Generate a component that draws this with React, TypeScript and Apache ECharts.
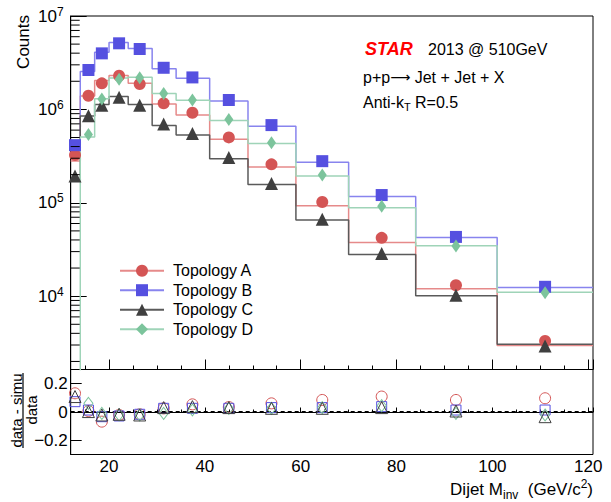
import React, { useEffect, useRef } from 'react';
import * as echarts from 'echarts';

const FONT = 'Liberation Sans, Arial, Helvetica, sans-serif';

// Dijet invariant-mass bin edges (GeV/c^2)
const BIN_EDGES = [12, 14, 17, 20, 24, 29, 34, 41, 49, 59, 70, 84, 101, 121];
// Data points plotted at the mean mass of each bin
const MASS_POINTS = [12.9, 15.7, 18.5, 22.1, 26.4, 31.4, 37.4, 45.0, 53.9, 64.5, 76.9, 92.4, 111.0];

// Data counts (markers)
const DATA_A = [3.24e5, 1.4e6, 1.9e6, 2.29e6, 1.87e6, 1.16e6, 9.2e5, 5.01e5, 2.58e5, 1.02e5, 4.21e4, 1.31e4, 3.31e3];
const DATA_B = [4.14e5, 2.64e6, 3.98e6, 5.1e6, 4.43e6, 2.79e6, 2.2e6, 1.26e6, 6.79e5, 2.79e5, 1.21e5, 4.31e4, 1.26e4];
const DATA_C = [1.94e5, 8.54e5, 1.11e6, 1.35e6, 1.11e6, 6.96e5, 5.53e5, 3.06e5, 1.61e5, 6.67e4, 2.86e4, 1.02e4, 2.93e3];
const DATA_D = [null, 5.4e5, 1.29e6, 2.1e6, 2.18e6, 1.48e6, 1.26e6, 7.81e5, 4.39e5, 1.98e5, 9.2e4, 3.45e4, 1.09e4];

// Simulation counts per bin (step histograms); 0 = empty / off-scale bin
const SIM_A = [2.81e5, 1.39e6, 2.04e6, 2.3e6, 1.9e6, 1.14e6, 8.7e5, 4.8e5, 2.42e5, 9.3e4, 3.75e4, 1.2e4, 2.97e3];
const SIM_B = [3.85e5, 2.55e6, 4.08e6, 5.2e6, 4.5e6, 2.73e6, 2.15e6, 1.23e6, 6.6e5, 2.72e5, 1.17e5, 4.25e4, 1.24e4];
const SIM_C = [1.73e5, 8.5e5, 1.13e6, 1.37e6, 1.13e6, 6.74e5, 5.32e5, 2.97e5, 1.57e5, 6.55e4, 2.8e4, 1.01e4, 3.05e3];
const SIM_D = [0, 5.07e5, 1.3e6, 2.17e6, 2.21e6, 1.48e6, 1.25e6, 7.6e5, 4.3e5, 1.93e5, 8.85e4, 3.46e4, 1.1e4];

// (data - simu) / data
const RATIO_A = [0.132, 0.007, -0.068, -0.021, -0.016, 0.026, 0.054, 0.035, 0.061, 0.085, 0.109, 0.085, 0.097];
const RATIO_B = [0.073, 0.014, -0.033, -0.028, -0.016, 0.026, 0.026, 0.026, 0.031, 0.031, 0.038, 0.014, 0.014];
const RATIO_C = [0.109, 0.003, -0.021, -0.016, -0.021, 0.031, 0.038, 0.031, 0.026, 0.026, 0.031, 0.007, -0.033];
const RATIO_D = [null, 0.061, -0.01, -0.02, -0.02, -0.01, 0.014, 0.026, 0.026, 0.031, 0.045, -0.01, -0.021];

const NAMES = ['Topology A', 'Topology B', 'Topology C', 'Topology D'];

const X_MIN = 12;
const X_MAX = 121;
const Y_MIN = 1640;
const Y_MAX = 1e7;
const R_MIN = -0.3;
const R_MAX = 0.3;

const LOG_MINOR_MULTS = [2, 3, 4, 5, 6, 7, 8, 9];
const LOG_DECADES = [1e3, 1e4, 1e5, 1e6];

const STYLES = [
  { marker: '#d45555', line: '#e68a8a', symbol: 'circle', size: 12, rsize: 11 },
  { marker: '#5550e0', line: '#8884ee', symbol: 'rect', size: 12, rsize: 10 },
  { marker: '#3f3f3f', line: '#5a5a5a', symbol: 'triangle', size: 13, rsize: 12 },
  { marker: '#7cc49c', line: '#9fd4b8', symbol: 'diamond', size: [9, 13] as any, rsize: [9, 12] as any },
];

const DATA = [DATA_A, DATA_B, DATA_C, DATA_D];
const SIMS = [SIM_A, SIM_B, SIM_C, SIM_D];
const RATIOS = [RATIO_A, RATIO_B, RATIO_C, RATIO_D];

function stepData(sim: number[]) {
  const pts = sim.map((v, i) => [BIN_EDGES[i], v > 0 ? v : Y_MIN / 10]);
  pts.push([BIN_EDGES[BIN_EDGES.length - 1], sim[sim.length - 1]]);
  return pts;
}

function pointData(vals: (number | null)[]) {
  const out: number[][] = [];
  vals.forEach((v, i) => {
    if (v !== null) out.push([MASS_POINTS[i], v]);
  });
  return out;
}

function buildOption() {
  const minorTicks: number[][] = [];
  LOG_DECADES.forEach((d) =>
    LOG_MINOR_MULTS.forEach((m) => {
      const v = m * d;
      if (v > Y_MIN && v < Y_MAX) minorTicks.push([X_MIN, v]);
    })
  );

  const series: any[] = [];
  SIMS.forEach((sim, k) => {
    series.push({
      type: 'line',
      name: NAMES[k],
      xAxisIndex: 0,
      yAxisIndex: 0,
      data: stepData(sim),
      step: 'end',
      symbol: STYLES[k].symbol,
      showSymbol: false,
      lineStyle: { color: STYLES[k].line, width: 1.5 },
      itemStyle: { color: STYLES[k].marker, opacity: 1 },
      silent: true,
      z: 2,
    });
  });
  DATA.forEach((d, k) => {
    series.push({
      type: 'scatter',
      name: NAMES[k] + ' data',
      xAxisIndex: 0,
      yAxisIndex: 0,
      data: pointData(d),
      symbol: STYLES[k].symbol,
      symbolSize: STYLES[k].size,
      itemStyle: { color: STYLES[k].marker, opacity: 1 },
      silent: true,
      z: 3,
    });
  });
  series.push({
    type: 'custom',
    name: 'minor ticks',
    xAxisIndex: 0,
    yAxisIndex: 0,
    data: minorTicks,
    silent: true,
    z: 5,
    renderItem: (params: any, api: any) => {
      const p = api.coord([api.value(0), api.value(1)]);
      return {
        type: 'line',
        shape: { x1: p[0], y1: p[1], x2: p[0] + 9, y2: p[1] },
        style: { stroke: '#000', lineWidth: 1 },
      };
    },
  });
  series.push({
    type: 'line',
    name: 'zero',
    xAxisIndex: 1,
    yAxisIndex: 1,
    data: [
      [X_MIN, 0],
      [X_MAX, 0],
    ],
    symbol: 'none',
    lineStyle: { color: '#000', width: 2, type: [4, 3] },
    silent: true,
    z: 1,
  });
  RATIOS.forEach((r, k) => {
    series.push({
      type: 'scatter',
      name: NAMES[k] + ' ratio',
      xAxisIndex: 1,
      yAxisIndex: 1,
      data: pointData(r),
      symbol: STYLES[k].symbol,
      symbolSize: STYLES[k].rsize,
      itemStyle: { color: 'rgba(0,0,0,0)', borderColor: STYLES[k].marker, borderWidth: 1, opacity: 1 },
      silent: true,
      z: 3 + (k === 2 ? 1 : 0),
    });
  });

  const axisLine = { show: true, lineStyle: { color: '#000', width: 1 } };

  return {
    animation: false,
    backgroundColor: '#fff',
    textStyle: { fontFamily: FONT },
    grid: [
      { left: 70.7, top: 16, width: 522.3, height: 353.5, show: true, borderColor: '#000', borderWidth: 1, containLabel: false, outerBoundsMode: 'none' },
      { left: 70.7, top: 369.5, width: 522.3, height: 85, show: true, borderColor: '#000', borderWidth: 1, containLabel: false, outerBoundsMode: 'none' },
    ],
    xAxis: [
      {
        gridIndex: 0,
        type: 'value',
        min: X_MIN,
        max: X_MAX,
        axisLine,
        axisTick: { show: true, inside: true, length: 10, lineStyle: { color: '#000' } },
        minorTick: { show: true, splitNumber: 4, length: 4, lineStyle: { color: '#000' } },
        axisLabel: { show: false },
        splitLine: { show: false },
      },
      {
        gridIndex: 1,
        type: 'value',
        min: X_MIN,
        max: X_MAX,
        axisLine,
        axisTick: { show: true, inside: true, length: 4.5, lineStyle: { color: '#000' } },
        minorTick: { show: true, splitNumber: 4, length: 2.5, lineStyle: { color: '#000' } },
        axisLabel: {
          show: true,
          fontSize: 17,
          fontFamily: FONT,
          color: '#000',
          margin: 3,
          showMinLabel: false,
          showMaxLabel: false,
        },
        splitLine: { show: false },
      },
    ],
    yAxis: [
      {
        gridIndex: 0,
        type: 'log',
        logBase: 10,
        min: Y_MIN,
        max: Y_MAX,
        axisLine,
        axisTick: { show: true, inside: true, length: 16, lineStyle: { color: '#000' } },
        splitLine: { show: false },
        axisLabel: {
          margin: 7,
          color: '#000',
          formatter: (v: number) => {
            const l = Math.log10(v);
            const e = Math.round(l);
            if (Math.abs(l - e) > 1e-6) return '';
            return `{b|10}{s|${e}}`;
          },
          rich: {
            b: { fontSize: 17, fontFamily: FONT, color: '#000' },
            s: { fontSize: 12, fontFamily: FONT, color: '#000', padding: [0, 0, 9, 0] },
          },
        },
      },
      {
        gridIndex: 1,
        type: 'value',
        min: R_MIN,
        max: R_MAX,
        splitNumber: 3,
        axisLine,
        axisTick: { show: true, inside: true, length: 11, lineStyle: { color: '#000' } },
        splitLine: { show: false },
        axisLabel: {
          margin: 3,
          fontSize: 17,
          fontFamily: FONT,
          color: '#000',
          showMinLabel: false,
          showMaxLabel: false,
          formatter: (v: number) => {
            const r = Math.round(v * 10) / 10;
            if (r === 0) return '0';
            return r < 0 ? '\u2212' + String(Math.abs(r)) : String(r);
          },
        },
      },
    ],
    legend: {
      left: 119,
      top: 262.7,
      padding: 0,
      orient: 'vertical',
      itemWidth: 44,
      itemHeight: 15,
      itemGap: 3.5,
      selectedMode: false,
      textStyle: { fontSize: 16, fontFamily: FONT, color: '#000', padding: [0, 0, 0, 4], lineHeight: 15 },
      data: NAMES.map((n, k) => ({
        name: n,
        itemStyle: { color: STYLES[k].marker, opacity: 1 },
        lineStyle: { color: STYLES[k].line, width: 2 },
      })),
    },
    graphic: [
      {
        type: 'text',
        x: 23.5,
        y: 15,
        rotation: Math.PI / 2,
        style: { text: 'Counts', fontSize: 17, fontFamily: FONT, fill: '#000', align: 'right', verticalAlign: 'middle', textAlign: 'right', textVerticalAlign: 'middle' },
      },
      {
        type: 'text',
        x: 16.5,
        y: 410.5,
        rotation: Math.PI / 2,
        style: { text: 'data - simu', fontSize: 15, fontFamily: FONT, fill: '#000', align: 'center', verticalAlign: 'middle', textAlign: 'center', textVerticalAlign: 'middle' },
      },
      {
        type: 'line',
        shape: { x1: 23, y1: 373, x2: 23, y2: 448 },
        style: { stroke: '#000', lineWidth: 1.2 },
      },
      {
        type: 'text',
        x: 31,
        y: 410,
        rotation: Math.PI / 2,
        style: { text: 'data', fontSize: 15, fontFamily: FONT, fill: '#000', align: 'center', verticalAlign: 'middle', textAlign: 'center', textVerticalAlign: 'middle' },
      },
      {
        type: 'text',
        x: 365,
        y: 49,
        style: { text: 'STAR', fontSize: 18, fontWeight: 'bold', fontStyle: 'italic', fontFamily: FONT, fill: '#ff0000', align: 'left', verticalAlign: 'middle', textAlign: 'left', textVerticalAlign: 'middle' },
      },
      {
        type: 'text',
        x: 428,
        y: 49,
        style: { text: '2013 @ 510GeV', fontSize: 16, fontFamily: FONT, fill: '#000', align: 'left', verticalAlign: 'middle', textAlign: 'left', textVerticalAlign: 'middle' },
      },
      {
        type: 'text',
        x: 363,
        y: 77,
        style: {
          text: '{m|p+p}{a|\u27F6}{m| Jet + Jet + X}',
          fontSize: 16,
          fontFamily: FONT,
          fill: '#000',
          align: 'left',
          verticalAlign: 'middle',
          textAlign: 'left',
          textVerticalAlign: 'middle',
          rich: {
            m: { fontSize: 16, fontFamily: FONT, fill: '#000', color: '#000' },
            a: { fontSize: 14, fontFamily: 'DejaVu Sans', fill: '#000', color: '#000' },
          },
        },
      },
      {
        type: 'text',
        x: 363,
        y: 102,
        style: {
          text: '{m|Anti-k}{sub|T}{m| R=0.5}',
          fontSize: 16,
          fontFamily: FONT,
          fill: '#000',
          align: 'left',
          verticalAlign: 'middle',
          textAlign: 'left',
          textVerticalAlign: 'middle',
          rich: {
            m: { fontSize: 16, fontFamily: FONT, fill: '#000', color: '#000' },
            sub: { fontSize: 11, fontFamily: FONT, fill: '#000', color: '#000', padding: [9, 0, 0, 0] },
          },
        },
      },
      {
        type: 'text',
        x: 593,
        y: 489,
        style: {
          text: '{m|Dijet M}{sub|inv}{m|  (GeV/c}{sup|2}{m|)}',
          fontSize: 17,
          fontFamily: FONT,
          fill: '#000',
          align: 'right',
          verticalAlign: 'middle',
          textAlign: 'right',
          textVerticalAlign: 'middle',
          rich: {
            m: { fontSize: 17, fontFamily: FONT, fill: '#000', color: '#000' },
            sub: { fontSize: 12, fontFamily: FONT, fill: '#000', color: '#000', padding: [12, 0, 0, 0] },
            sup: { fontSize: 12, fontFamily: FONT, fill: '#000', color: '#000', padding: [0, 0, 10, 0] },
          },
        },
      },
    ],
    series,
  };
}

export default function App() {
  const ref = useRef<HTMLDivElement>(null);
  useEffect(() => {
    if (!ref.current) return;
    const chart = echarts.init(ref.current, null, { renderer: 'svg' });
    chart.setOption(buildOption() as any);
    return () => chart.dispose();
  }, []);
  return (
    <div
      ref={ref}
      style={{ position: 'absolute', left: 0, top: 0, width: 611, height: 502, background: '#fff' }}
    />
  );
}
